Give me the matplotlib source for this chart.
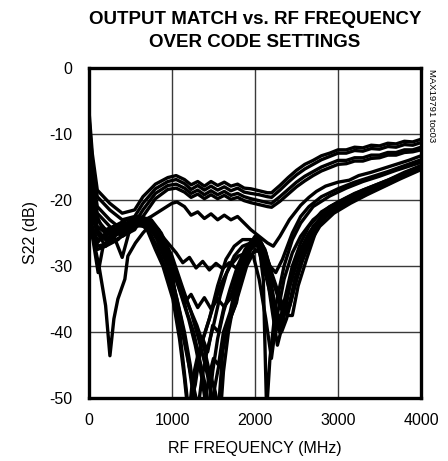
import matplotlib
matplotlib.use("Agg")
import matplotlib.pyplot as plt

plt.rcParams['axes.unicode_minus'] = False
FONT = ['Liberation Sans', 'DejaVu Sans']

title = "OUTPUT MATCH vs. RF FREQUENCY\nOVER CODE SETTINGS"
xlabel = "RF FREQUENCY (MHz)"
ylabel = "S22 (dB)"
side_note = "MAX19791 toc03"
xticks = [0, 1000, 2000, 3000, 4000]
yticks = [0, -10, -20, -30, -40, -50]

# (frequency MHz, S22 dB)
curve_A1 = [(0,-6.5),(40,-13),(100,-18.5),(250,-20.5),(400,-22),(550,-21.5),(650,-19.5),(800,-17.6),(950,-16.6),(1050,-16.3),(1150,-16.9),(1230,-17.7),(1310,-17.2),(1390,-17.9),(1470,-17.2),(1550,-17.8),(1630,-17.3),(1710,-17.9),(1790,-17.6),(1870,-18.2),(1950,-18.3),(2050,-18.6),(2150,-18.9),(2200,-18.9),(2300,-17.8),(2400,-16.6),(2500,-15.5),(2600,-14.6),(2700,-14),(2800,-13.3),(2900,-12.9),(3000,-12.4),(3100,-12.4),(3200,-12.0),(3300,-12.1),(3400,-11.7),(3500,-11.8),(3600,-11.4),(3700,-11.5),(3800,-11.1),(3900,-11.2),(4000,-10.8)]
curve_A2 = [(0,-7.5),(40,-14),(100,-19.5),(250,-21.5),(400,-23),(550,-22.5),(650,-20.5),(800,-18.3),(950,-17.2),(1050,-16.9),(1150,-17.5),(1230,-18.4),(1310,-17.8),(1390,-18.5),(1470,-17.9),(1550,-18.5),(1630,-18),(1710,-18.6),(1790,-18.2),(1870,-18.8),(1950,-19),(2050,-19.2),(2150,-19.5),(2200,-19.6),(2300,-18.5),(2400,-17.3),(2500,-16.2),(2600,-15.3),(2700,-14.6),(2800,-13.9),(2900,-13.4),(3000,-12.9),(3100,-12.9),(3200,-12.5),(3300,-12.6),(3400,-12.2),(3500,-12.3),(3600,-11.9),(3700,-12),(3800,-11.6),(3900,-11.7),(4000,-11.3)]
curve_A3 = [(0,-9),(40,-16),(100,-21),(250,-23),(400,-24.5),(550,-23.5),(650,-21.5),(800,-19),(950,-17.8),(1050,-17.6),(1150,-18.2),(1230,-19),(1310,-18.5),(1390,-19.2),(1470,-18.6),(1550,-19.2),(1630,-18.7),(1710,-19.3),(1790,-19),(1870,-19.5),(1950,-19.8),(2050,-20.1),(2150,-20.4),(2200,-20.5),(2300,-19.5),(2400,-18.4),(2500,-17.3),(2600,-16.4),(2700,-15.7),(2800,-15),(2900,-14.5),(3000,-14),(3100,-14),(3200,-13.6),(3300,-13.6),(3400,-13.2),(3500,-13.2),(3600,-12.8),(3700,-12.8),(3800,-12.4),(3900,-12.4),(4000,-12)]
curve_A4 = [(0,-11),(40,-18),(100,-22),(250,-24),(400,-25.5),(550,-24.5),(650,-22.5),(800,-19.8),(950,-18.4),(1050,-18.2),(1150,-18.8),(1230,-19.6),(1310,-19.1),(1390,-19.8),(1470,-19.2),(1550,-19.8),(1630,-19.3),(1710,-19.9),(1790,-19.6),(1870,-20.1),(1950,-20.4),(2050,-20.7),(2150,-21),(2200,-21.1),(2300,-20.2),(2400,-19.1),(2500,-18),(2600,-17.1),(2700,-16.3),(2800,-15.6),(2900,-15.1),(3000,-14.6),(3100,-14.5),(3200,-14.1),(3300,-14.1),(3400,-13.7),(3500,-13.6),(3600,-13.2),(3700,-13.2),(3800,-12.8),(3900,-12.7),(4000,-12.4)]
curve_B = [(0,-17),(50,-21),(150,-24),(300,-25.5),(450,-24.5),(600,-23.5),(750,-22.5),(900,-21.3),(1000,-20.5),(1060,-20.3),(1150,-21),(1230,-22.3),(1310,-21.8),(1390,-22.8),(1470,-22.1),(1550,-23),(1630,-22.3),(1710,-23),(1790,-22.5),(1870,-23.5),(1950,-24.5),(2050,-25.5),(2150,-26.5),(2220,-27),(2300,-25.5),(2414,-23),(2550,-20.8),(2650,-19.6),(2740,-18.7),(2850,-17.9),(3000,-17.3),(3135,-17.0),(3250,-16.3),(3400,-15.8),(3550,-15.2),(3700,-14.6),(3850,-14),(4000,-13.3)]
curve_C = [(0,-22),(100,-27),(250,-26.5),(400,-25.5),(550,-24),(700,-23.8),(850,-25),(950,-26.5),(1050,-28),(1130,-29.5),(1210,-28.7),(1290,-30.3),(1370,-29.3),(1450,-30.6),(1530,-29.6),(1610,-30.4),(1690,-29.5),(1770,-30.3),(1850,-29),(1950,-27.3),(2030,-26.5),(2100,-27.5),(2180,-30),(2250,-31),(2330,-29),(2450,-25),(2550,-22.5),(2650,-21),(2800,-19.5),(3000,-18.3),(3200,-17.3),(3400,-16.5),(3600,-15.7),(3800,-14.8),(4000,-13.9)]
curve_W = [(0,-20),(100,-25),(200,-27),(350,-26),(500,-24),(650,-23),(780,-24),(900,-27),(1000,-30),(1080,-33),(1150,-35.5),(1230,-34.3),(1310,-36.3),(1390,-34.8),(1470,-36.5),(1550,-35),(1630,-36.2),(1710,-34.5),(1790,-33.5),(1870,-30),(1950,-27.5),(2030,-26.5),(2100,-28),(2200,-33),(2290,-39.6),(2340,-36),(2450,-30),(2550,-26.5),(2650,-24),(2800,-21.8),(3000,-20.3),(3200,-19),(3400,-18),(3600,-17),(3800,-15.8),(4000,-14.8)]
curve_D = [(0,-22),(36,-25),(120,-30),(200,-36),(252,-43.6),(300,-38),(348,-35),(432,-32),(468,-28.5),(560,-26.5),(650,-25),(720,-24),(800,-24.5),(900,-27),(1000,-30.5),(1093,-40),(1130,-44),(1200,-52),(1280,-48),(1350,-42),(1450,-38),(1550,-33),(1650,-29),(1750,-27),(1850,-26),(1950,-26),(2050,-27),(2100,-32),(2140,-52),(2180,-44),(2250,-36),(2350,-30),(2450,-26),(2550,-23.5),(2700,-21),(2900,-19.4),(3100,-18.2),(3300,-17.2),(3500,-16.4),(3700,-15.5),(4000,-14.3)]
curve_L1 = [(0,-23),(100,-26),(200,-25.5),(300,-24.5),(450,-23.8),(600,-23.3),(700,-24.5),(800,-27.5),(890,-30),(1010,-35),(1090,-41),(1150,-47),(1200,-53),(1250,-47),(1320,-43),(1400,-40),(1500,-36),(1600,-32.5),(1700,-30),(1800,-28.5),(1900,-28),(1980,-28.5),(2050,-32),(2130,-38),(2198,-44),(2260,-38),(2350,-32),(2450,-28),(2550,-25.5),(2700,-23),(2900,-21),(3100,-19.7),(3300,-18.5),(3500,-17.5),(3700,-16.5),(3850,-15.7),(4000,-15)]
curve_L2 = [(0,-24),(100,-27.5),(200,-27),(300,-25.5),(400,-28.7),(480,-25),(600,-23),(720,-23.5),(850,-26),(960,-30),(1060,-35),(1150,-40),(1220,-45),(1300,-53),(1360,-47),(1420,-43),(1500,-39),(1580,-34.5),(1660,-31),(1750,-28.5),(1850,-27),(1950,-26.5),(2030,-27),(2100,-30),(2200,-35),(2290,-40),(2350,-36),(2450,-31),(2550,-27.5),(2650,-25),(2800,-22.5),(3000,-20.8),(3200,-19.4),(3400,-18.3),(3600,-17.2),(3800,-16),(4000,-15.2)]
curve_L3 = [(0,-21),(100,-25),(200,-26),(300,-25),(450,-24),(600,-22.8),(730,-23.3),(850,-25.5),(980,-29.5),(1100,-34),(1200,-38),(1280,-42),(1360,-47),(1430,-53),(1490,-46),(1550,-41),(1620,-37),(1700,-33.5),(1790,-30),(1880,-27.5),(1970,-26),(2050,-26.5),(2120,-29),(2200,-32),(2300,-35),(2400,-37.5),(2450,-37.5),(2520,-33),(2620,-29),(2740,-24.5),(2850,-22.5),(3000,-21),(3200,-19.6),(3400,-18.5),(3600,-17.5),(3800,-16.3),(4000,-15.3)]
curve_L4 = [(0,-19),(100,-24),(200,-25),(300,-24),(450,-23.5),(600,-22.5),(750,-23),(870,-25),(1000,-28.5),(1120,-33),(1230,-37),(1320,-41),(1400,-45),(1470,-49),(1530,-53),(1573,-49.5),(1610,-43),(1670,-39),(1778,-35.5),(1814,-32),(1900,-28.5),(1980,-26.5),(2050,-26),(2120,-27.5),(2200,-31),(2280,-34),(2350,-36.5),(2420,-36),(2500,-32),(2600,-28),(2700,-25),(2850,-22.5),(3000,-21),(3200,-19.5),(3400,-18.3),(3600,-17.3),(3800,-16),(4000,-14.8)]
curve_L5 = [(0,-22),(60,-27),(110,-31),(170,-27),(300,-25),(450,-24),(600,-23.5),(700,-23.6),(820,-26),(930,-29.5),(1030,-33.5),(1110,-38),(1180,-43),(1250,-49),(1310,-45),(1370,-41),(1430,-43),(1490,-39),(1560,-40),(1630,-36),(1700,-35),(1770,-32),(1850,-29),(1930,-27),(2010,-26),(2080,-27),(2150,-30),(2230,-36),(2300,-38),(2380,-35),(2480,-30),(2580,-27),(2700,-24),(2850,-22),(3050,-20.3),(3250,-19),(3450,-18),(3650,-17),(3850,-15.8),(4000,-15)]
curve_L6 = [(0,-18),(100,-23),(200,-24.5),(300,-24),(450,-23),(600,-22.5),(750,-23.2),(880,-25.5),(1000,-29),(1100,-33),(1200,-36),(1300,-39),(1380,-42),(1450,-46),(1520,-49),(1580,-53),(1620,-46),(1680,-40),(1760,-34.5),(1840,-30),(1920,-27),(2000,-25.5),(2060,-26),(2130,-28),(2200,-31.5),(2260,-34),(2330,-37),(2400,-36.5),(2480,-32),(2580,-28),(2680,-25),(2800,-23),(3000,-21.2),(3200,-19.8),(3400,-18.7),(3600,-17.6),(3800,-16.2),(4000,-15.2)]
curve_L7 = [(0,-25),(100,-26.5),(200,-25),(300,-24),(450,-23.5),(600,-23.8),(700,-24.2),(820,-27),(940,-31),(1050,-36),(1140,-41),(1220,-46),(1290,-50),(1380,-53),(1440,-47),(1500,-44),(1560,-45),(1620,-40),(1700,-37),(1770,-33),(1850,-30.5),(1930,-29),(2000,-27.5),(2070,-28),(2140,-31),(2210,-37),(2270,-42),(2330,-39),(2420,-33),(2520,-29),(2620,-26),(2750,-23.5),(2950,-21.4),(3150,-20),(3350,-18.9),(3550,-17.8),(3750,-16.6),(4000,-15.1)]
curve_L8 = [(0,-20),(100,-24.5),(200,-26),(300,-25.5),(450,-24.2),(600,-23.2),(720,-23),(840,-24.5),(960,-28),(1080,-32.5),(1180,-37),(1260,-40),(1330,-44),(1400,-48),(1460,-53),(1520,-48),(1580,-44),(1640,-41),(1700,-38),(1760,-36),(1830,-33),(1900,-30),(1980,-28),(2050,-27.5),(2110,-29),(2180,-33),(2250,-37),(2320,-40),(2380,-38),(2460,-34),(2560,-29.5),(2660,-26.5),(2780,-24),(2950,-22),(3150,-20.5),(3350,-19.2),(3550,-18),(3750,-16.8),(4000,-15.4)]

curves = [curve_A1, curve_A2, curve_A3, curve_A4, curve_B, curve_C, curve_W,
          curve_D, curve_L1, curve_L2, curve_L3, curve_L4, curve_L5, curve_L6,
          curve_L7, curve_L8]

fig = plt.figure(figsize=(4.48, 4.61), dpi=100)
ax = fig.add_axes([89/448, 1-398/461, (421-89)/448, (398-68)/461])

for c in curves:
    f = [p[0] for p in c]
    d = [p[1] for p in c]
    ax.plot(f, d, color='black', lw=2.4, solid_joinstyle='round', solid_capstyle='round')

ax.set_xlim(0, 4000)
ax.set_ylim(-50, 0)
ax.set_xticks(xticks)
ax.set_yticks(yticks)
ax.set_xticklabels([str(t) for t in xticks], family=FONT, fontsize=11.5)
ax.set_yticklabels([str(t) for t in yticks], family=FONT, fontsize=11.5)
ax.tick_params(axis='x', length=0, pad=11)
ax.tick_params(axis='y', length=0, pad=12)
ax.grid(True, color='#3a3a3a', lw=1.0)
ax.set_axisbelow(True)
for s in ax.spines.values():
    s.set_linewidth(2.4)
    s.set_color('black')

ax.set_xlabel(xlabel, family=FONT, fontsize=11.5, labelpad=9)
ax.set_ylabel(ylabel, family=FONT, fontsize=11.5, labelpad=8)
fig.text(255/448, 1-31/461, title, ha='center', va='center', family=FONT,
         fontsize=13.5, fontweight='bold', linespacing=1.45)
fig.text(431/448, 1-69/461, side_note, ha='center', va='top', rotation=-90,
         family=FONT, fontsize=6.8)

fig.savefig('out.png', dpi=100)
